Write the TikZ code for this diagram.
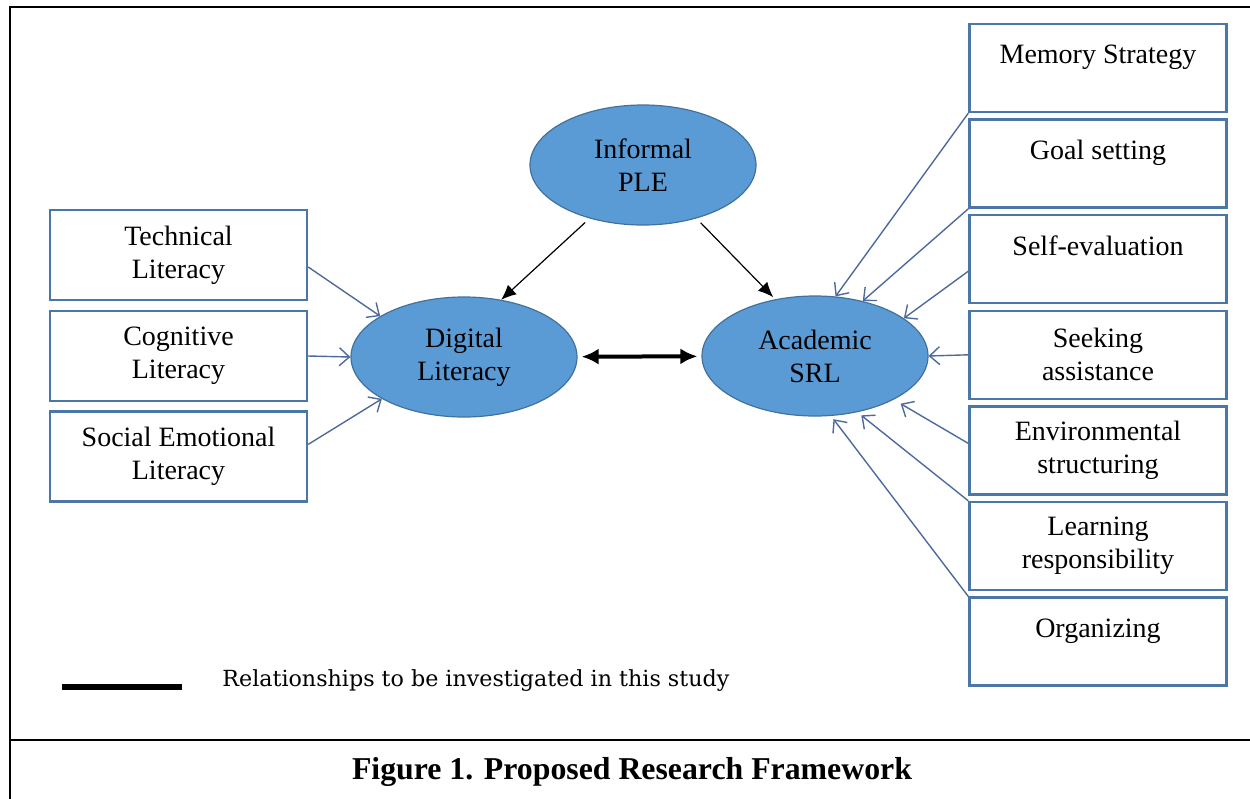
\documentclass[tikz,border=0pt]{standalone}
\usepackage{fontspec}
\setmainfont{Liberation Serif}
\newfontfamily\legendfont{DejaVu Serif}
\usetikzlibrary{arrows.meta, positioning, shapes.geometric}
\definecolor{ellfill}{HTML}{5B9BD5}
\definecolor{ellline}{HTML}{41719C}
\definecolor{boxline}{HTML}{4A76A8}
\definecolor{feedline}{HTML}{4E6A9C}

\begin{document}
\begin{tikzpicture}[x=0.5pt,y=-0.5pt,node distance=2.6pt,
  factor/.style={draw=boxline,line width=1.2pt,minimum width=128.5pt,minimum height=44pt,
    inner sep=0pt,align=center,font=\fontsize{14}{16.5}\selectfont},
  construct/.style={ellipse,draw=ellline,line width=0.6pt,fill=ellfill,minimum width=113pt,
    minimum height=60pt,inner sep=0pt,align=center,font=\fontsize{14}{16.5}\selectfont},
  feed/.style={draw=feedline,line width=0.7pt,-{Straight Barb[length=5pt,width=9pt]}},
  direct/.style={line width=0.6pt,-{Latex[length=7.5pt,width=6.5pt]}},
  mutual/.style={line width=2pt,{Latex[length=8.5pt,width=8pt]}-{Latex[length=8.5pt,width=8pt]},shorten <=2pt,shorten >=2pt}]
\useasboundingbox (0,0) rectangle (1250,799);
% frame
\draw [line width=1pt] (10,799) -- (10,7) -- (1250,7);
\draw [line width=1pt] (10,740) -- (1250,740);
% constructs
\node [construct] (inf) at (643,165) {Informal\\PLE};
\node [construct] (dig) at (464,357) {Digital\\Literacy};
\node [construct] (aca) at (815,356) {Academic\\SRL};
% digital literacy factors
\node [factor,minimum height=45pt] (tech) at (178.5,255) {Technical\\Literacy};
\node [factor,minimum height=45pt,below=4.3pt of tech] (cog) {Cognitive\\Literacy};
\node [factor,minimum height=45pt,below=4pt of cog] (soc) {Social Emotional\\Literacy};
% academic SRL factors
\node [factor] (mem) at (1098,68) {Memory Strategy\\[-3pt] \mbox{}};
\node [factor,below=of mem] (goal) {Goal setting\\[-3pt] \mbox{}};
\node [factor,below=of goal] (self) {Self-evaluation\\[-3pt] \mbox{}};
\node [factor,below=of self] (seek) {Seeking\\assistance};
\node [factor,below=of seek] (env) {Environmental\\structuring};
\node [factor,below=of env] (learn) {Learning\\responsibility};
\node [factor,below=of learn] (org) {Organizing\\[-3pt] \mbox{}};
% connectors
\draw [direct,shorten <=3pt] (inf.225) -- (dig.57);
\draw [direct,shorten <=3pt,shorten >=1.5pt] (inf.315) -- (aca.125);
\draw [mutual] (dig) -- (aca);
\draw [feed] ([yshift=-6pt]tech.east) -- (dig.154);
\draw [feed] (cog.east) -- (dig.west);
\draw [feed] ([yshift=6pt]soc.east) -- (dig.207);
\draw [feed] (mem.south west) -- (aca.71);
\draw [feed] (goal.south west) -- (aca.49);
\draw [feed] ([yshift=-6pt]self.west) -- (aca.23);
\draw [feed] (seek.west) -- (aca.east);
\draw [feed,shorten >=4pt] ([yshift=3.5pt]env.west) -- (aca.331);
\draw [feed,shorten >=2.5pt] (learn.north west) -- (aca.307);
\draw [feed,shorten >=2pt] (org.north west) -- (aca.285);
% legend and caption
\coordinate (legA) at (62,687);
\coordinate (legB) at (182,687);
\draw [line width=2.75pt] (legA) -- (legB);
\node [anchor=west,inner sep=0pt,font=\legendfont\fontsize{11.1}{13}\selectfont] (legtext) at (222,681) {Relationships to be investigated in this study};
\node [font=\bfseries\fontsize{15.9}{18}\selectfont] (caption) at (632,772) {Figure 1. Proposed Research Framework};
\end{tikzpicture}
\end{document}
